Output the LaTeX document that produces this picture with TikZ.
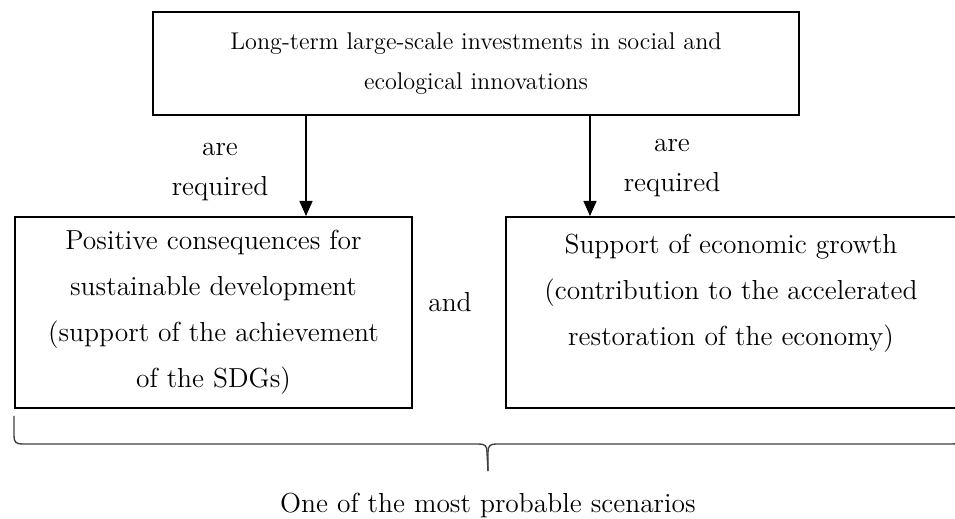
\documentclass[tikz,border=0pt]{standalone}
\usetikzlibrary{arrows.meta}
\newcommand{\toptxt}{\fontsize{12.1}{20}\selectfont}
\newcommand{\boxtxt}{\fontsize{13.75}{23}\selectfont}
\tikzstyle{caja} = [draw, line width=1pt, rectangle, align=center, inner sep=0pt, font=\boxtxt]
\tikzstyle{etiqueta} = [align=center, font=\fontsize{13.75}{20}\selectfont]
\tikzstyle{flecha} = [-{Triangle[length=7.5pt,width=6.5pt]}, line width=0.65pt]
\tikzstyle{llave} = [line width=0.7pt, draw=black!75]

\begin{document}
\begin{tikzpicture}[x=0.5pt, y=-0.5pt]
		\useasboundingbox (0,0) rectangle (955,519);
		\node[caja, font=\toptxt, minimum width=323pt, minimum height=51.5pt](inv) at (476,63.5)
			{Long-term large-scale investments in social and\\ecological innovations};
		\node[caja, minimum width=198.5pt, minimum height=95.5pt](sdg) at (213.5,312.5)
			{Positive consequences for\\sustainable development\\(support of the achievement\\of the SDGs)};
		\node[caja, minimum width=225pt, minimum height=95.5pt](eco) at (731,312.5)
			{Support of economic growth\\(contribution to the accelerated\\restoration of the economy)\\~};
		\node[etiqueta](req1) at (220,172) {are\\required};
		\node[etiqueta](req2) at (672,168) {are\\required};
		\node[etiqueta](and) at (450,302) {and};
		\node[etiqueta](esc) at (488,505) {One of the most probable scenarios};

		\draw[flecha] ([xshift=-85pt]inv.south) -- ([xshift=-85pt]inv.south |- sdg.north);
		\draw[flecha] ([xshift=57pt]inv.south) -- ([xshift=57pt]inv.south |- eco.north);

		% llave bajo las dos cajas
		\coordinate (llI) at ([yshift=-3.5pt]sdg.south west);
		\coordinate (pb) at (esc.north |- sdg.south);
		\coordinate (punta) at ([yshift=-31pt]pb);
		\draw[llave] (llI) -- ++(0,20) .. controls +(0,6) and +(-6,0) .. ++(8,8)
			-- ++(457,0) .. controls +(6,0) and +(0,-6) .. ++(8,8) -- (punta);
		\draw[llave] (punta) -- ++(0,-19) .. controls +(0,-6) and +(-6,0) .. ++(8,-8)
			-- ++(457,0) .. controls +(6,0) and +(0,6) .. ++(8,-8) -- ++(0,-20);
	\end{tikzpicture}
\end{document}
